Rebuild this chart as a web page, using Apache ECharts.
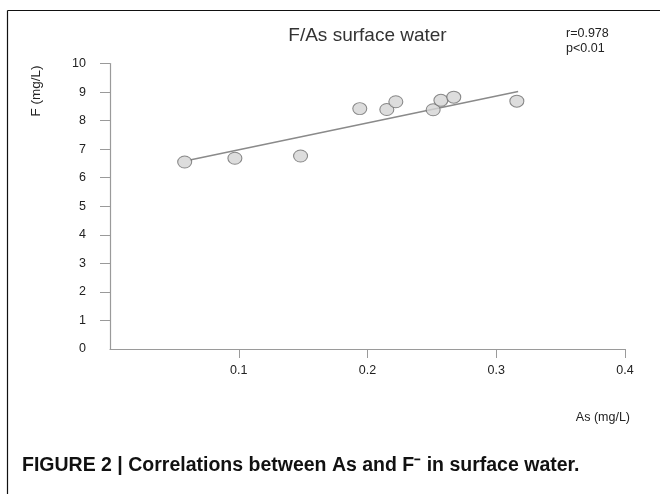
<!DOCTYPE html>
<html>
<head>
<meta charset="utf-8">
<script src="https://cdn.jsdelivr.net/npm/echarts@6/dist/echarts.min.js"></script>
<style>
  html, body { margin: 0; padding: 0; background: #fff; }
  #chart { width: 660px; height: 494px; }
</style>
</head>
<body>
<div id="chart"></div>
<script>
  // measured samples (As, F) in mg/L
  const asValues = [0.058, 0.097, 0.148, 0.194, 0.215, 0.222, 0.251, 0.257, 0.267, 0.316]
  const fValues = [6.55, 6.68, 6.76, 8.42, 8.39, 8.66, 8.38, 8.71, 8.82, 8.68]

  // regression line end points
  const fitAs = [0.062, 0.317]
  const fitF = [6.62, 9.02]

  const xTicks = [0.1, 0.2, 0.3, 0.4]
  const yTicks = [1, 2, 3, 4, 5, 6, 7, 8, 9, 10]

  const points = asValues.map((x, i) => [x, fValues[i]])
  const fit = fitAs.map((x, i) => [x, fitF[i]])

  const font = '"Liberation Sans", Arial, sans-serif'
  const axisColor = '#9a9a9a'

  const myChart = echarts.init(document.getElementById('chart'))

  myChart.setOption({
    animation: false,
    grid: { left: 110, right: 35, top: 63.5, bottom: 145 },
    xAxis: {
      type: 'value',
      min: 0,
      max: 0.4,
      interval: 0.1,
      name: 'As (mg/L)',
      nameLocation: 'end',
      nameGap: 0,
      nameTextStyle: {
        fontFamily: font, fontSize: 12.5, color: '#222',
        align: 'right', verticalAlign: 'top', padding: [62, -5, 0, 0],
      },
      axisLine: { show: true, lineStyle: { color: axisColor, width: 1.2 } },
      axisTick: { show: true, length: 9, lineStyle: { color: axisColor }, customValues: xTicks },
      axisLabel: {
        fontFamily: font, fontSize: 12.5, color: '#222', margin: 15,
        customValues: xTicks,
        formatter: v => v.toFixed(1),
      },
      splitLine: { show: false },
    },
    yAxis: {
      type: 'value',
      min: 0,
      max: 10,
      interval: 1,
      axisLine: { show: true, lineStyle: { color: axisColor, width: 1.2 } },
      axisTick: { show: true, length: 10, lineStyle: { color: axisColor }, customValues: yTicks },
      axisLabel: { fontFamily: font, fontSize: 12.5, color: '#222', margin: 24 },
      splitLine: { show: false },
    },
    series: [
      {
        type: 'line',
        data: fit,
        symbol: 'none',
        lineStyle: { color: '#8a8a8a', width: 1.5 },
        z: 2,
      },
      {
        type: 'scatter',
        data: points,
        symbol: 'circle',
        symbolSize: [14, 12],
        itemStyle: { color: '#d4d4d4', borderColor: '#6e6e6e', borderWidth: 1 },
        z: 3,
      },
    ],
    graphic: [
      { type: 'line', shape: { x1: 7.5, y1: 10.5, x2: 660, y2: 10.5 }, style: { stroke: '#111', lineWidth: 1.2 } },
      { type: 'line', shape: { x1: 7.5, y1: 10.5, x2: 7.5, y2: 494 }, style: { stroke: '#111', lineWidth: 1.2 } },
      {
        // chart title
        type: 'text', x: 367.5, y: 36,
        style: { text: 'F/As surface water', font: '19px ' + font, fill: '#333', align: 'center', verticalAlign: 'middle' },
      },
      {
        // y axis name, vertical
        type: 'text', x: 36, y: 91, rotation: Math.PI / 2,
        style: { text: 'F (mg/L)', font: '13.5px ' + font, fill: '#222', align: 'center', verticalAlign: 'middle' },
      },
      {
        type: 'text', left: 566, top: 26,
        style: { text: 'r=0.978\np<0.01', font: '12.5px ' + font, fill: '#222', lineHeight: 15 },
      },
      {
        type: 'text', left: 22, top: 456,
        style: {
          text: 'FIGURE 2 | Correlations between As and F\u207B in surface water.',
          font: 'bold 19.5px ' + font, fill: '#111',
        },
      },
    ],
  })
</script>
</body>
</html>
